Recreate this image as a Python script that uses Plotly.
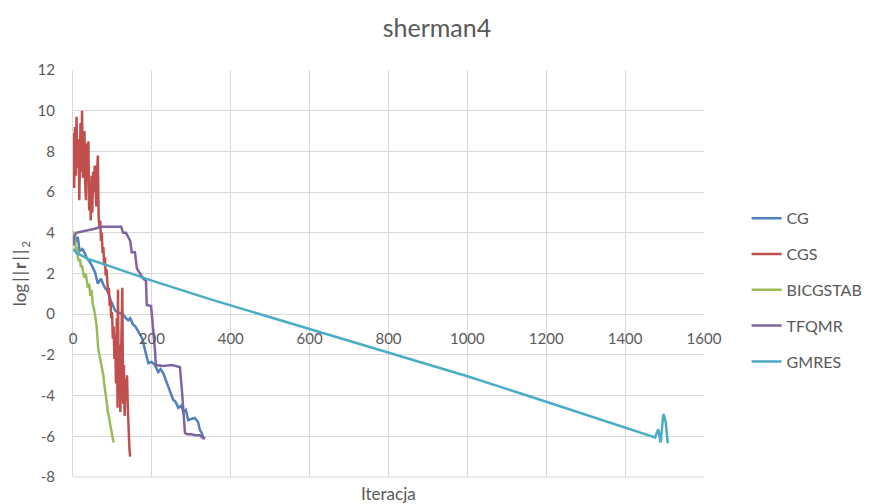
import plotly.graph_objects as go

# ---- data ----
cg_x = [0, 5, 12, 17, 24, 30, 35, 42, 50, 56, 63, 67, 71, 76, 81, 89, 95, 101, 106, 112, 120, 127, 134, 140, 145, 152, 158, 164, 170, 176, 183, 191, 199, 208, 216, 222, 229, 235, 241, 248, 254, 260, 267, 274, 280, 286, 292, 300, 309, 317, 322, 326, 330, 335]
cg_y = [3.4, 3.5, 3.8, 3.1, 3.2, 3.0, 2.75, 2.6, 2.3, 2.05, 1.5, 1.6, 1.75, 1.5, 1.3, 1.1, 0.7, 0.45, 0.2, 0.1, 0.05, 0.0, -0.2, -0.3, -0.2, -0.5, -0.6, -0.8, -0.95, -1.2, -1.8, -2.4, -2.35, -2.5, -2.85, -2.7, -2.9, -3.2, -3.6, -3.9, -4.2, -4.3, -4.6, -4.5, -4.8, -4.7, -5.2, -5.15, -5.1, -5.3, -5.7, -5.8, -6.05, -6.1]

cgs_x = [0, 1, 3, 5, 7, 9, 11, 14, 16, 19, 21, 23, 25, 27, 29, 31, 33, 35, 37, 39, 41, 43, 45, 47, 49, 51, 53, 55, 57, 59, 61, 63, 65, 67, 69, 71, 73, 75, 77, 79, 81, 83, 85, 87, 89, 91, 93, 95, 97, 99, 101, 103, 105, 107, 109, 111, 113, 114, 116, 118, 120, 122, 125, 127, 129, 131, 133, 135, 137, 139, 141, 143, 145]
cgs_y = [6.4, 8.9, 6.2, 9.2, 6.8, 9.7, 7.2, 8.6, 5.6, 9.4, 7.0, 10.0, 6.7, 8.2, 9.0, 6.4, 5.6, 8.4, 7.0, 8.5, 5.1, 6.4, 4.6, 6.8, 5.0, 7.0, 6.0, 7.3, 6.5, 5.3, 7.0, 7.8, 4.8, 4.2, 4.6, 3.6, 4.0, 3.0, 3.3, 2.4, 2.8, 1.9, 2.2, 1.5, 1.0, 1.3, 0.4, 0.7, -0.2, 0.1, -1.2, -0.6, -2.2, -1.0, -3.4, -0.2, -4.6, 1.2, -4.0, -1.5, -4.8, -2.0, 1.3, -4.4, -2.5, -5.0, -3.2, -4.2, -3.0, -4.6, -5.8, -6.6, -7.0]

bicg_x = [0, 2, 4, 6, 8, 10, 12, 15, 18, 20, 23, 26, 29, 32, 35, 38, 41, 44, 47, 50, 53, 56, 58, 60, 62, 64, 66, 69, 72, 74, 77, 79, 81, 84, 86, 88, 91, 94, 97, 100, 103]
bicg_y = [4.1, 3.6, 3.9, 3.2, 3.0, 3.3, 2.8, 2.6, 2.7, 2.3, 2.4, 2.0, 1.8, 2.0, 1.5, 1.3, 1.5, 0.9, 1.2, 0.5, 0.3, 0.0, -0.3, -0.6, -1.4, -1.7, -1.9, -2.3, -2.5, -2.7, -3.0, -3.4, -3.7, -3.9, -4.4, -4.8, -5.0, -5.4, -5.7, -6.0, -6.3]

tfqmr_x = [0, 3, 8, 20, 38, 55, 71, 90, 109, 122, 127, 134, 140, 145, 149, 157, 162, 170, 178, 185, 187, 198, 203, 208, 210, 230, 250, 271, 276, 280, 284, 290, 300, 310, 322, 330, 335]
tfqmr_y = [3.4, 3.8, 4.0, 4.05, 4.1, 4.2, 4.3, 4.3, 4.3, 4.3, 4.0, 4.0, 3.8, 3.6, 3.05, 3.05, 2.25, 2.0, 1.75, 1.65, 0.45, 0.4, -0.6, -1.8, -2.5, -2.55, -2.5, -2.6, -3.7, -4.6, -5.85, -5.9, -5.9, -5.95, -5.95, -6.1, -6.1]

gmres_x = [0, 10, 20, 40, 80, 145, 200, 347, 500, 600, 800, 1000, 1200, 1400, 1476, 1484, 1490, 1497, 1503, 1508]
gmres_y = [3.2, 3.0, 2.9, 2.7, 2.45, 2.0, 1.65, 0.74, -0.15, -0.75, -1.9, -3.05, -4.3, -5.55, -6.05, -5.65, -6.3, -4.9, -5.3, -6.35]

names = ["CG", "CGS", "BICGSTAB", "TFQMR", "GMRES"]
colors = ["#4F81BD", "#C0504D", "#9BBB59", "#8064A2", "#4BACC6"]
xs = [cg_x, cgs_x, bicg_x, tfqmr_x, gmres_x]
ys = [cg_y, cgs_y, bicg_y, tfqmr_y, gmres_y]

x_ticks = [0, 200, 400, 600, 800, 1000, 1200, 1400, 1600]
y_ticks = [12, 10, 8, 6, 4, 2, 0, -2, -4, -6, -8]

FONT = "Lato, 'Open Sans', sans-serif"
GRAY = "#595959"
GRID = "#D9D9D9"

fig = go.Figure()
for n, c, x, y in zip(names, colors, xs, ys):
    fig.add_trace(go.Scatter(x=x, y=y, name=n, mode="lines",
                             line=dict(color=c, width=2.5), legendgroup=n))

fig.update_layout(
    width=874, height=504,
    margin=dict(l=73, r=170, t=70, b=27, autoexpand=False),
    paper_bgcolor="white", plot_bgcolor="white",
    font=dict(family=FONT, color=GRAY, size=15),
    title=dict(text="sherman4", x=0.5, xref="container", xanchor="center",
               y=1 - 28 / 504, yref="container", yanchor="middle",
               font=dict(size=25, color=GRAY, family=FONT), automargin=False),
    showlegend=True,
    legend=dict(x=1.0675, xanchor="left", y=0.46, yanchor="middle",
                traceorder="grouped", tracegroupgap=12,
                font=dict(size=16, color=GRAY, family=FONT),
                bgcolor="rgba(0,0,0,0)"),
    xaxis=dict(range=[0, 1600], tickvals=x_ticks, ticktext=[str(v) for v in x_ticks],
               showgrid=True, gridcolor=GRID, gridwidth=1, zeroline=False,
               showline=False, anchor="free", position=0.4, automargin=False,
               ticks="", ticklabelstandoff=14,
               tickfont=dict(size=15, color=GRAY, family=FONT)),
    yaxis=dict(range=[-8, 12], tickvals=y_ticks, ticktext=[str(v) for v in y_ticks],
               showgrid=True, gridcolor=GRID, gridwidth=1, zeroline=False,
               showline=True, linecolor=GRID, linewidth=1, automargin=False,
               ticks="", ticklabelstandoff=14,
               tickfont=dict(size=15, color=GRAY, family=FONT),
               title=dict(text="log\u2009|\u2009|\u2009<b>r</b>\u2009|\u2009|\u2009<sub>2</sub>", standoff=6,
                          font=dict(size=17, color=GRAY, family=FONT))),
    annotations=[dict(text="Iteracja", x=0.5, xref="paper", y=0, yref="paper",
                      yanchor="top", yshift=-4, showarrow=False,
                      font=dict(size=17, color=GRAY, family=FONT))],
)
fig.add_shape(type="line", xref="paper", yref="paper", x0=0, x1=1, y0=0, y1=0,
              line=dict(color=GRID, width=1), layer="below")

fig.write_html("out.html", config={"displayModeBar": False},
               post_script="document.body.style.margin='0';")
